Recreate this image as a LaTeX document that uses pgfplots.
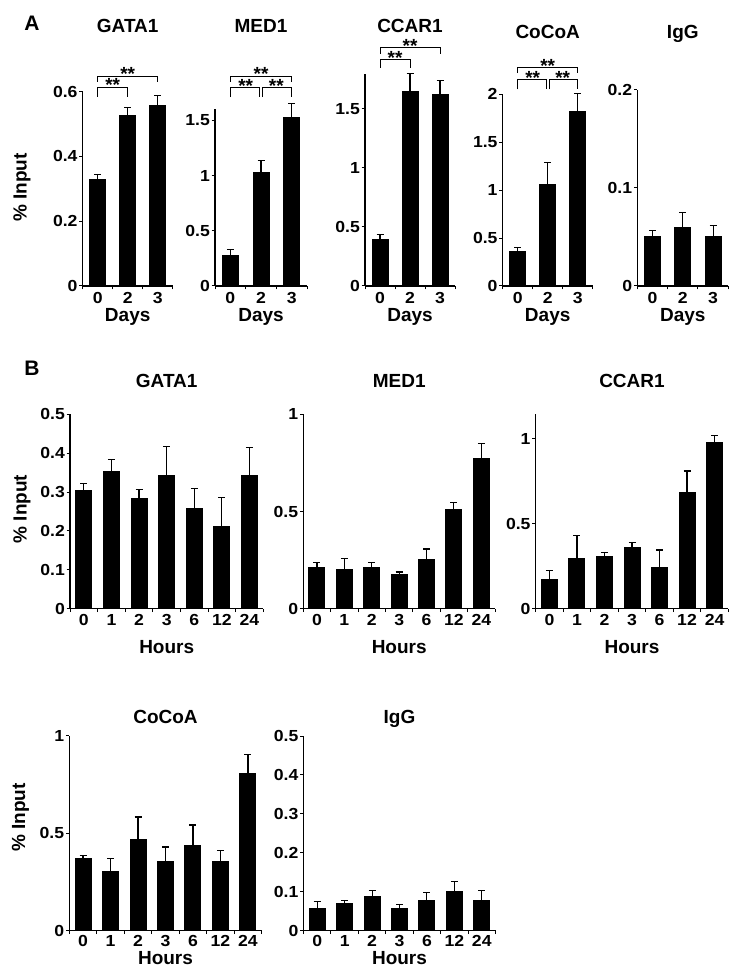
\documentclass[border=0pt]{standalone}
\usepackage{fontspec}
\setmainfont{Liberation Sans}
\newfontfamily\tickfont[FakeStretch=1.1]{Liberation Sans}
\usepackage{pgfplots}
\pgfplotsset{compat=1.18}

% shared look of the small bar panels
\pgfplotsset{
  chip/.style={
    scale only axis, anchor=south west,
    axis x line*=bottom, axis y line*=left,
    axis line style={line width=1.1pt},
    ymin=0, xmin=-0.5,
    enlargelimits=false,
    ybar, bar width=16pt,
    tick align=outside,
    major tick length=3.5pt, minor tick length=3.5pt,
    major x tick style={draw=none},
    minor x tick style={line width=1pt, black},
    ytick style={line width=1pt, black},
    /pgf/number format/assume math mode=true,
    tick label style={font=\tickfont\bfseries\fontsize{16}{16}\selectfont},
    yticklabel style={inner xsep=1.5pt},
    xticklabel style={anchor=base, inner sep=0pt, yshift=-14pt},
    clip=false,
  },
  chipA/.style={chip, xmax=2.5, xtick={0,1,2}, xticklabels={0,2,3},
    minor xtick={-0.5,0.5,1.5,2.5}},
  chipB/.style={chip, xmax=6.5, xtick={0,...,6}, xticklabels={0,1,2,3,6,12,24},
    minor xtick={-0.5,0.5,...,6.5}, xticklabel style={yshift=1pt}},
  bars/.style={fill=black, draw=black, line width=0pt,
    error bars/.cd, y dir=plus, y explicit,
    error bar style={draw=black, line width=1.1pt},
    error mark options={draw=black, rotate=90, mark size=3.5pt, line width=1.1pt}},
}
\tikzset{
  br/.style={line width=0.9pt},
  st/.style={anchor=south, inner sep=0pt, yshift=-5pt, font=\bfseries\fontsize{19}{19}\selectfont},
  ttl/.style={anchor=base, inner sep=0pt, font=\bfseries\fontsize{19}{20}\selectfont},
  lbl/.style={inner sep=0pt, font=\bfseries\fontsize{19}{20}\selectfont},
}

\begin{document}
\begin{tikzpicture}
\useasboundingbox (0pt,0pt) rectangle (742pt,977pt);

% ---------------- A ----------------
\node[font=\bfseries\fontsize{21}{22}\selectfont] at (32pt,954pt) {A};

\begin{axis}[chipA, at={(82.7pt,691pt)}, width=90pt, height=194.3pt,
  ymax=0.6, ytick={0,0.2,0.4,0.6}]
\addplot[bars] coordinates {(0,0.330) +- (0,0.015) (1,0.525) +- (0,0.026) (2,0.556) +- (0,0.032)};
\draw[br] (axis cs:0,0.584) |- (axis cs:1,0.614) -- (axis cs:1,0.584);
\draw[br] (axis cs:0,0.630) |- (axis cs:2,0.648) -- (axis cs:2,0.630);
\node[st] at (axis cs:0.5,0.614) {**};
\node[st] at (axis cs:1,0.648) {**};
\end{axis}

\begin{axis}[chipA, at={(215pt,691pt)}, width=92pt, height=176.7pt,
  ymax=1.6, ytick={0,0.5,1,1.5}]
\addplot[bars] coordinates {(0,0.28) +- (0,0.05) (1,1.024) +- (0,0.116) (2,1.524) +- (0,0.126)};
\draw[br] (axis cs:0,1.71) |- (axis cs:0.95,1.795) -- (axis cs:0.95,1.71);
\draw[br] (axis cs:1.05,1.71) |- (axis cs:2,1.795) -- (axis cs:2,1.71);
\draw[br] (axis cs:0,1.85) |- (axis cs:2,1.90) -- (axis cs:2,1.85);
\node[st] at (axis cs:0.5,1.795) {**};
\node[st] at (axis cs:1.5,1.795) {**};
\node[st] at (axis cs:1,1.90) {**};
\end{axis}

\begin{axis}[chipA, at={(365pt,691pt)}, width=90pt, height=212.4pt,
  ymax=1.8, ytick={0,0.5,1,1.5}]
\addplot[bars] coordinates {(0,0.39) +- (0,0.05) (1,1.647) +- (0,0.15) (2,1.625) +- (0,0.12)};
\draw[br] (axis cs:0,1.85) |- (axis cs:1,1.92) -- (axis cs:1,1.85);
\draw[br] (axis cs:0,1.97) |- (axis cs:2,2.02) -- (axis cs:2,1.97);
\node[st] at (axis cs:0.5,1.92) {**};
\node[st] at (axis cs:1,2.02) {**};
\end{axis}

\begin{axis}[chipA, at={(502.7pt,691pt)}, width=90pt, height=191.7pt,
  ymax=2, ytick={0,0.5,1,1.5,2}]
\addplot[bars] coordinates {(0,0.36) +- (0,0.04) (1,1.06) +- (0,0.23) (2,1.825) +- (0,0.18)};
\draw[br] (axis cs:0,2.05) |- (axis cs:0.95,2.157) -- (axis cs:0.95,2.05);
\draw[br] (axis cs:1.05,2.05) |- (axis cs:2,2.157) -- (axis cs:2,2.05);
\draw[br] (axis cs:0,2.22) |- (axis cs:2,2.28) -- (axis cs:2,2.22);
\node[st] at (axis cs:0.5,2.157) {**};
\node[st] at (axis cs:1.5,2.157) {**};
\node[st] at (axis cs:1,2.28) {**};
\end{axis}

\begin{axis}[chipA, at={(637.3pt,691pt)}, width=91pt, height=196pt,
  ymax=0.2, ytick={0,0.1,0.2}]
\addplot[bars] coordinates {(0,0.0500) +- (0,0.0065) (1,0.0600) +- (0,0.0154) (2,0.0505) +- (0,0.011)};
\end{axis}

\node[ttl] at (127.7pt,944pt) {GATA1};
\node[ttl] at (261pt,944pt) {MED1};
\node[ttl] at (410pt,944.5pt) {CCAR1};
\node[ttl] at (547.7pt,938pt) {CoCoA};
\node[ttl] at (682.8pt,938pt) {IgG};
\node[lbl, rotate=90] at (22pt,789.5pt) {\% Input};
\foreach \cx in {127.7,261,410,547.7,682.8}
  \node[lbl, anchor=base] at (\cx pt,655pt) {Days};

% ---------------- B ----------------
\node[font=\bfseries\fontsize{21}{22}\selectfont] at (32pt,609pt) {B};

\begin{axis}[chipB, at={(70pt,368.3pt)}, width=193.3pt, height=194.4pt,
  ymax=0.5, ytick={0,0.1,...,0.5}]
\addplot[bars] coordinates {(0,0.304) +- (0,0.018) (1,0.352) +- (0,0.031) (2,0.283) +- (0,0.024)
  (3,0.343) +- (0,0.075) (4,0.258) +- (0,0.051) (5,0.211) +- (0,0.075) (6,0.343) +- (0,0.072)};
\end{axis}

\begin{axis}[chipB, at={(303.3pt,368.3pt)}, width=191.7pt, height=194.4pt,
  ymax=1, ytick={0,0.5,1}]
\addplot[bars] coordinates {(0,0.213) +- (0,0.024) (1,0.202) +- (0,0.054) (2,0.214) +- (0,0.024)
  (3,0.178) +- (0,0.011) (4,0.254) +- (0,0.053) (5,0.508) +- (0,0.036) (6,0.772) +- (0,0.079)};
\end{axis}

\begin{axis}[chipB, at={(535.7pt,368.3pt)}, width=192.6pt, height=194.7pt,
  ymax=1.145, ytick={0,0.5,1}]
\addplot[bars] coordinates {(0,0.169) +- (0,0.058) (1,0.296) +- (0,0.135) (2,0.306) +- (0,0.027)
  (3,0.361) +- (0,0.027) (4,0.243) +- (0,0.102) (5,0.684) +- (0,0.126) (6,0.980) +- (0,0.040)};
\end{axis}

\begin{axis}[chipB, at={(69.3pt,46.3pt)}, width=192.4pt, height=194.7pt,
  ymax=1, ytick={0,0.5,1}, xticklabel style={yshift=0.5pt}]
\addplot[bars] coordinates {(0,0.370) +- (0,0.017) (1,0.303) +- (0,0.067) (2,0.469) +- (0,0.115)
  (3,0.356) +- (0,0.074) (4,0.437) +- (0,0.106) (5,0.356) +- (0,0.055) (6,0.807) +- (0,0.097)};
\end{axis}

\begin{axis}[chipB, at={(303.5pt,46.3pt)}, width=192pt, height=194.7pt,
  ymax=0.5, ytick={0,0.1,...,0.5}, xticklabel style={yshift=0.5pt}]
\addplot[bars] coordinates {(0,0.058) +- (0,0.017) (1,0.070) +- (0,0.007) (2,0.087) +- (0,0.016)
  (3,0.058) +- (0,0.010) (4,0.077) +- (0,0.020) (5,0.100) +- (0,0.026) (6,0.077) +- (0,0.026)};
\end{axis}

\node[ttl] at (166.7pt,589.7pt) {GATA1};
\node[ttl] at (399.2pt,589.7pt) {MED1};
\node[ttl] at (632pt,589.7pt) {CCAR1};
\node[ttl] at (165.5pt,253.7pt) {CoCoA};
\node[ttl] at (399.5pt,253.7pt) {IgG};
\node[lbl, rotate=90] at (22pt,468pt) {\% Input};
\node[lbl, rotate=90] at (20.5pt,159.5pt) {\% Input};
\foreach \cx in {166.7,399.2,632}
  \node[lbl, anchor=base] at (\cx pt,323.7pt) {Hours};
\foreach \cx in {165.5,399.5}
  \node[lbl, anchor=base] at (\cx pt,12.8pt) {Hours};
\end{tikzpicture}
\end{document}
